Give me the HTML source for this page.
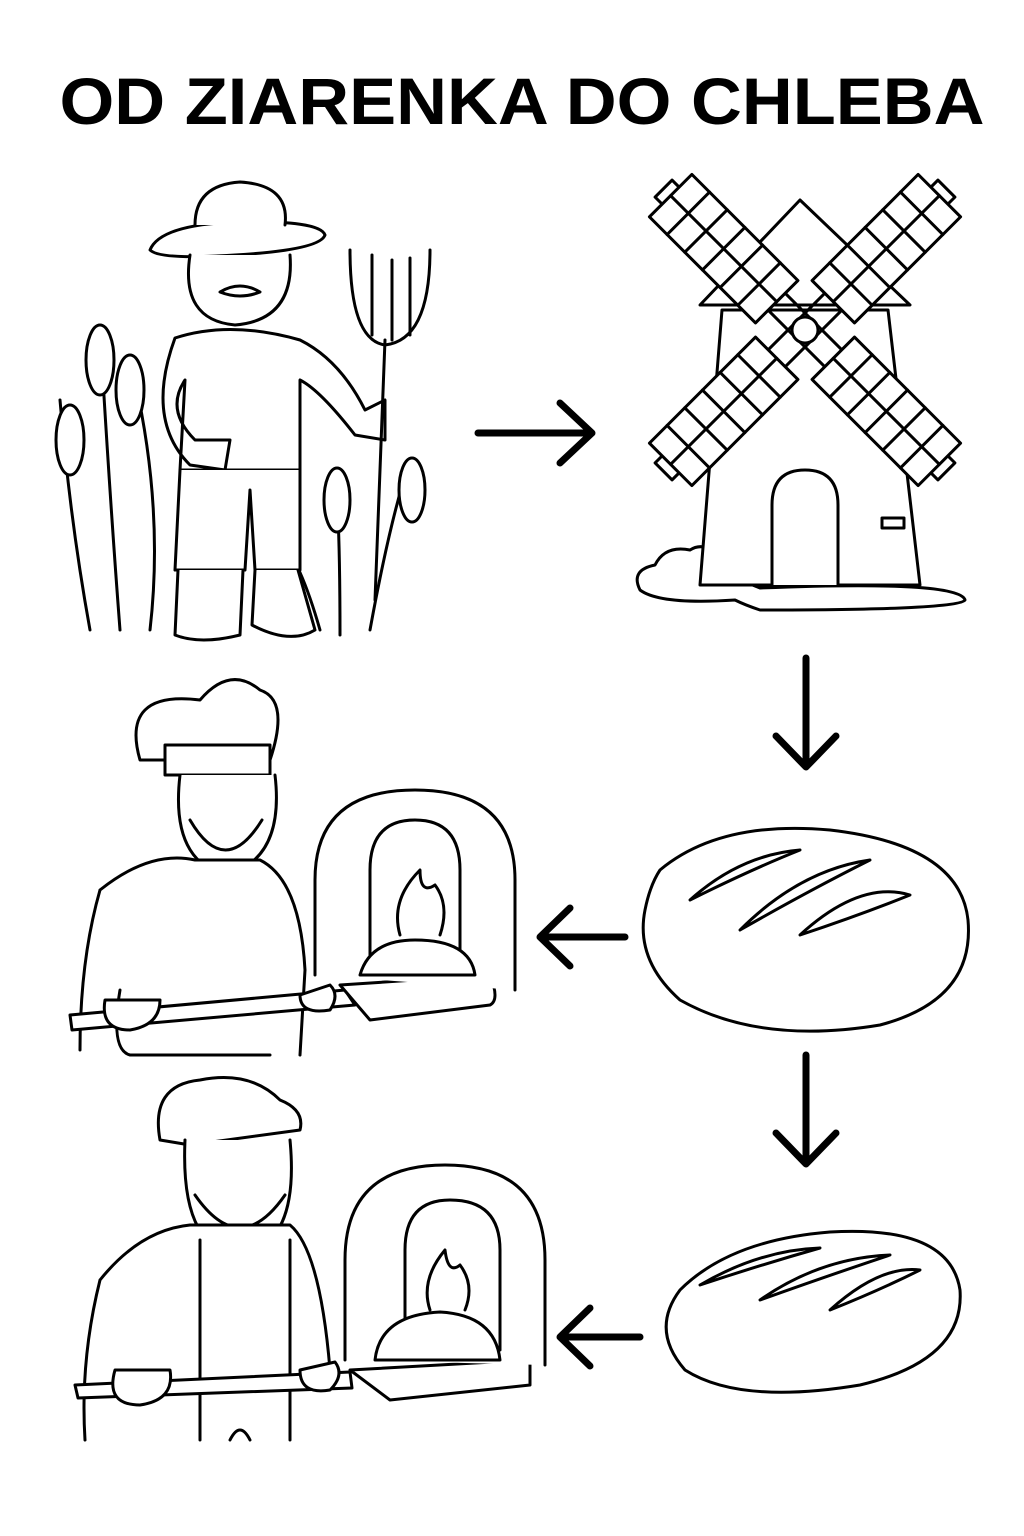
<!DOCTYPE html>
<html><head><meta charset="utf-8"><style>
html,body{margin:0;padding:0;background:#fff;}
svg{display:block;}
</style></head><body>
<svg width="1024" height="1536" viewBox="0 0 1024 1536" xmlns="http://www.w3.org/2000/svg">
<rect width="1024" height="1536" fill="#fff"/>
<text x="522" y="124" text-anchor="middle" font-family="Liberation Sans, sans-serif" font-weight="bold" font-size="66" textLength="925" lengthAdjust="spacingAndGlyphs" fill="#000">OD ZIARENKA DO CHLEBA</text>

<g fill="none" stroke="#000" stroke-width="7" stroke-linecap="round" stroke-linejoin="round">
<path d="M478 433 H590 M560 403 L592 433 L560 463"/>
<path d="M806 658 V765 M776 736 L806 767 L836 736"/>
<path d="M625 937 H542 M570 908 L540 937 L570 966"/>
<path d="M806 1055 V1162 M776 1133 L806 1164 L836 1133"/>
<path d="M640 1337 H562 M590 1308 L560 1337 L590 1366"/>
</g>

<g fill="#fff" stroke="#000" stroke-width="3" stroke-linejoin="round" stroke-linecap="round">
<!-- windmill -->
<path d="M640 590 Q630 570 655 565 Q665 545 690 550 Q705 540 725 560 Q745 565 740 580 L760 588 Q960 580 965 600 Q960 610 760 610 Q745 605 735 600 Q660 605 640 590Z"/>
<path d="M722 310 L888 310 L920 585 L700 585Z"/>
<path d="M700 305 L800 200 L910 305Z"/>
<path d="M772 585 V505 Q772 470 805 470 Q838 470 838 505 V585"/>
<rect x="882" y="518" width="22" height="10"/>
<g transform="rotate(45 805 330)">
<rect x="793" y="130" width="24" height="400" fill="none"/>
<rect x="605" y="318" width="400" height="24" fill="none"/>
<rect x="775" y="140" width="60" height="150"/><path d="M805 140 V290 M775 165 H835 M775 190 H835 M775 215 H835 M775 240 H835 M775 265 H835"/>
<rect x="775" y="370" width="60" height="150"/><path d="M805 370 V520 M775 395 H835 M775 420 H835 M775 445 H835 M775 470 H835 M775 495 H835"/>
<rect x="615" y="300" width="150" height="60"/><path d="M615 330 H765 M640 300 V360 M665 300 V360 M690 300 V360 M715 300 V360 M740 300 V360"/>
<rect x="845" y="300" width="150" height="60"/><path d="M845 330 H995 M870 300 V360 M895 300 V360 M920 300 V360 M945 300 V360 M970 300 V360"/>
</g>
<circle cx="805" cy="330" r="13"/>

<!-- bread 1 -->
<path d="M660 870 Q720 820 830 830 Q960 845 968 920 Q975 1000 880 1025 Q760 1045 680 1000 Q635 960 645 910 Q650 885 660 870Z"/>
<path d="M690 900 Q740 855 800 850 Q750 870 690 900Z M740 930 Q800 870 870 860 Q810 890 740 930Z M800 935 Q860 880 910 895 Q860 915 800 935Z"/>
<!-- bread 2 -->
<path d="M680 1290 Q730 1240 830 1232 Q950 1225 960 1290 Q965 1360 860 1385 Q740 1405 685 1370 Q650 1330 680 1290Z"/>
<path d="M700 1285 Q760 1250 820 1248 Q760 1265 700 1285Z M760 1300 Q820 1258 890 1255 Q830 1275 760 1300Z M830 1310 Q880 1265 920 1270 Q880 1290 830 1310Z"/>

<!-- farmer -->
<path d="M90 630 Q70 520 60 400 M120 630 Q110 500 100 330 M150 630 Q165 500 130 360 M340 635 Q340 520 335 470 M370 630 Q390 520 410 460 M320 630 Q300 560 280 540"/>
<g>
<ellipse cx="100" cy="360" rx="14" ry="35"/><ellipse cx="130" cy="390" rx="14" ry="35"/><ellipse cx="70" cy="440" rx="14" ry="35"/>
<ellipse cx="337" cy="500" rx="13" ry="32"/><ellipse cx="412" cy="490" rx="13" ry="32"/>
</g>
<path d="M150 250 Q160 225 235 222 Q320 220 325 235 Q320 250 235 255 Q160 260 150 250Z"/>
<path d="M195 225 Q195 185 240 182 Q290 185 285 225"/>
<path d="M190 255 Q180 320 235 325 Q295 320 290 255"/>
<path d="M220 292 Q240 280 260 292 Q240 300 220 292Z"/>
<path d="M175 338 Q230 320 300 340 Q340 360 365 410 L385 400 L385 440 L355 435 Q320 390 300 380 L300 470 L180 470 L185 380 Q165 410 195 440 L230 440 L225 470 L190 465 Q145 420 175 338Z"/>
<path d="M180 470 L175 570 L245 570 L250 490 L255 570 L300 570 L300 470"/>
<path d="M178 570 L175 635 Q200 645 240 635 L243 570 M255 570 L252 625 Q290 645 315 630 L298 570"/>
<path d="M375 600 L385 340 M350 250 Q350 340 385 345 Q430 340 430 250 M372 255 V335 M392 260 V340 M410 258 V335"/>

<!-- baker 1 -->
<path d="M140 760 Q120 690 200 700 Q230 665 260 690 Q290 700 270 760 Z"/>
<rect x="165" y="745" width="105" height="30"/>
<path d="M180 775 Q170 860 225 875 Q285 860 275 775"/>
<path d="M190 820 Q225 880 262 820"/>
<path d="M100 890 Q150 850 195 860 L260 860 Q300 880 305 970 L300 1055 M100 890 Q80 960 80 1050 M120 990 Q110 1050 130 1055 L270 1055"/>
<path d="M70 1015 L345 990 L355 1005 L72 1030Z"/>
<path d="M340 985 L490 975 Q500 1000 490 1005 L370 1020Z"/>
<path d="M315 975 V880 Q315 790 415 790 Q515 790 515 880 V990"/>
<path d="M370 960 V870 Q370 820 415 820 Q460 820 460 870 V960"/>
<path d="M360 975 Q370 940 415 940 Q470 940 475 975Z"/>
<path d="M400 935 Q390 900 420 870 Q420 895 435 885 Q450 905 440 935"/>
<path d="M105 1000 Q100 1030 130 1030 Q160 1025 160 1000 Z M300 995 Q300 1015 330 1010 Q340 995 330 985Z"/>

<!-- baker 2 -->
<path d="M160 1140 Q150 1085 200 1080 Q250 1070 280 1100 Q305 1110 300 1130 L190 1145Z"/>
<path d="M185 1140 Q180 1250 240 1255 Q300 1245 290 1140"/>
<path d="M195 1195 Q240 1260 285 1195"/>
<path d="M100 1280 Q140 1230 190 1225 L290 1225 Q320 1250 330 1370 M100 1280 Q80 1360 85 1440 M200 1240 V1440 M290 1240 V1440 M230 1440 Q240 1420 250 1440"/>
<path d="M75 1385 L350 1372 L352 1388 L78 1398Z"/>
<path d="M350 1370 L530 1360 L530 1385 L390 1400Z"/>
<path d="M345 1360 V1260 Q345 1165 445 1165 Q545 1165 545 1260 V1365"/>
<path d="M405 1350 V1250 Q405 1200 450 1200 Q500 1200 500 1250 V1350"/>
<path d="M375 1360 Q380 1315 440 1312 Q495 1315 500 1360Z"/>
<path d="M430 1310 Q420 1280 445 1250 Q448 1275 460 1265 Q475 1285 465 1310"/>
<path d="M115 1370 Q105 1405 140 1405 Q175 1400 170 1370Z M300 1370 Q300 1395 330 1390 Q345 1375 335 1362Z"/>
</g>
</svg>
</body></html>
